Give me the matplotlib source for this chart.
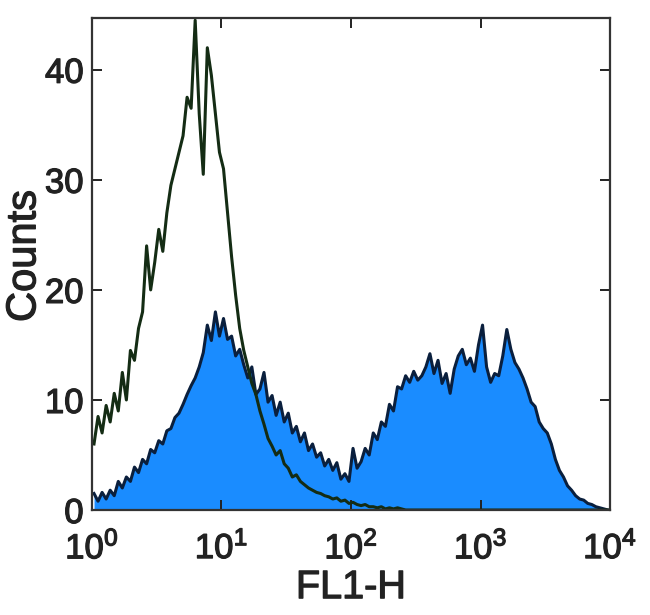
import numpy as np
import matplotlib
matplotlib.use("Agg")
import matplotlib.pyplot as plt
import matplotlib.patheffects as pe

plt.rcParams['font.family'] = ['Liberation Sans', 'DejaVu Sans']
plt.rcParams['mathtext.fontset'] = 'custom'
plt.rcParams['mathtext.rm'] = 'Liberation Sans'
plt.rcParams['mathtext.default'] = 'regular'

# 128 channels over 4 decades (FL1-H, 10^0 .. 10^4)
n_bins = 128
log_edges = np.linspace(0, 4, n_bins + 1)
log_centers = 0.5 * (log_edges[:-1] + log_edges[1:])
fl1 = 10 ** log_centers

# stained sample (filled blue)
stained = [
    1.5, 0.8, 1.6, 1.0, 1.8, 1.3, 2.6, 2.0, 3.0, 2.6,
    3.9, 3.4, 4.6, 4.2, 5.5, 5.2, 6.3, 6.0, 7.2, 7.4,
    8.4, 8.8, 9.6, 10.5, 11.3, 12.0, 13.0, 14.3, 16.8, 15.4,
    18.0, 15.8, 17.4, 15.5, 15.8, 14.0, 14.6, 13.2, 12.0, 13.0,
    10.5, 11.0, 12.5, 9.8, 10.4, 8.6, 9.8, 8.0, 8.8, 7.0,
    7.6, 6.2, 7.0, 5.4, 6.0, 4.8, 5.2, 4.0, 4.6, 3.6,
    4.3, 2.8, 3.3, 2.6, 5.6, 3.8, 4.4, 5.6, 5.0, 7.0,
    6.4, 8.0, 7.6, 9.6, 9.0, 11.2, 11.0, 12.2, 11.6, 12.6,
    11.8, 12.2, 13.0, 14.2, 12.4, 13.6, 11.5, 12.4, 10.6, 12.8,
    14.0, 14.6, 13.2, 13.8, 12.6, 15.0, 16.8, 13.0, 11.6, 12.4,
    12.2, 14.0, 16.4, 14.6, 13.4, 12.8, 12.0, 11.0, 9.8, 9.4,
    8.0, 7.4, 7.0, 6.0, 4.6, 3.6, 3.0, 2.2, 1.8, 1.3,
    1.0, 0.9, 0.6, 0.5, 0.3, 0.2, 0.1, 0.0,
]

# isotype control (open, dark green outline)
control = [
    6.0, 8.5, 7.0, 9.5, 8.0, 10.6, 9.0, 12.5, 10.0, 14.5,
    13.6, 16.5, 18.0, 24.0, 20.0, 22.5, 25.5, 23.5, 27.0, 29.5,
    31.0, 32.5, 34.0, 37.5, 36.5, 44.5, 36.0, 30.5, 42.0, 39.5,
    36.0, 32.5, 31.0, 27.0, 23.0, 19.5, 16.5, 14.5, 13.0, 11.5,
    10.5, 9.0, 7.8, 6.5, 5.8, 5.0, 5.4, 4.2, 3.8, 3.0,
    3.2, 2.6, 2.3, 2.0, 1.8, 1.6, 1.5, 1.3, 1.2, 1.0,
    1.1, 0.8, 0.9, 0.6, 0.7, 0.5, 0.4, 0.5, 0.3, 0.3,
    0.2, 0.3, 0.1, 0.2, 0.1, 0.2, 0.1, 0.0, 0.0, 0.0,
    0.0, 0.0, 0.0, 0.0, 0.0, 0.0, 0.0, 0.0, 0.0, 0.0,
    0.0, 0.0, 0.0, 0.0, 0.0, 0.0, 0.0, 0.0, 0.0, 0.0,
    0.0, 0.0, 0.0, 0.0, 0.0, 0.0, 0.0, 0.0, 0.0, 0.0,
    0.0, 0.0, 0.0, 0.0, 0.0, 0.0, 0.0, 0.0, 0.0, 0.0,
    0.0, 0.0, 0.0, 0.0, 0.0, 0.0, 0.0, 0.0,
]

x_ticks = [1, 10, 100, 1000, 10000]
x_labels = ['$10^{0}$', '$10^{1}$', '$10^{2}$', '$10^{3}$', '$10^{4}$']
y_ticks = [0, 10, 20, 30, 40]

txt_col = '#222222'
heavy = [pe.withStroke(linewidth=0.9, foreground=txt_col)]

fig = plt.figure(figsize=(6.5, 6.15), dpi=100)
ax = fig.add_axes([0.1415, 0.1707, 0.797, 0.80])

ax.fill_between(fl1, stained, 0, color='#1a8cff', lw=0)
ax.plot(fl1, stained, color='#0a1f3d', lw=2.2)
ax.plot(fl1, control, color='#142c14', lw=2.2)

ax.set_xscale('log')
ax.set_xlim(1, 10000)
ax.set_ylim(0, 44.7)
ax.set_xticks(x_ticks)
ax.set_xticklabels(x_labels)
ax.set_yticks(y_ticks)
ax.xaxis.set_minor_locator(matplotlib.ticker.NullLocator())
ax.tick_params(direction='in', top=True, right=True, length=7, width=1.4,
               labelsize=25, pad=6, colors=txt_col)
ax.tick_params(axis='x', pad=15)
for s in ax.spines.values():
    s.set_linewidth(1.6)
    s.set_color('#333333')

ax.set_xlabel('FL1-H', fontsize=28.5, labelpad=2, color=txt_col)
ax.set_ylabel('Counts', fontsize=30, color=txt_col)
ax.yaxis.set_label_coords(-0.092, 0.516)

for t in ax.get_xticklabels() + ax.get_yticklabels():
    t.set_path_effects(heavy)
ax.xaxis.label.set_path_effects(heavy)
ax.yaxis.label.set_path_effects(heavy)

plt.savefig('out.png', dpi=100)
